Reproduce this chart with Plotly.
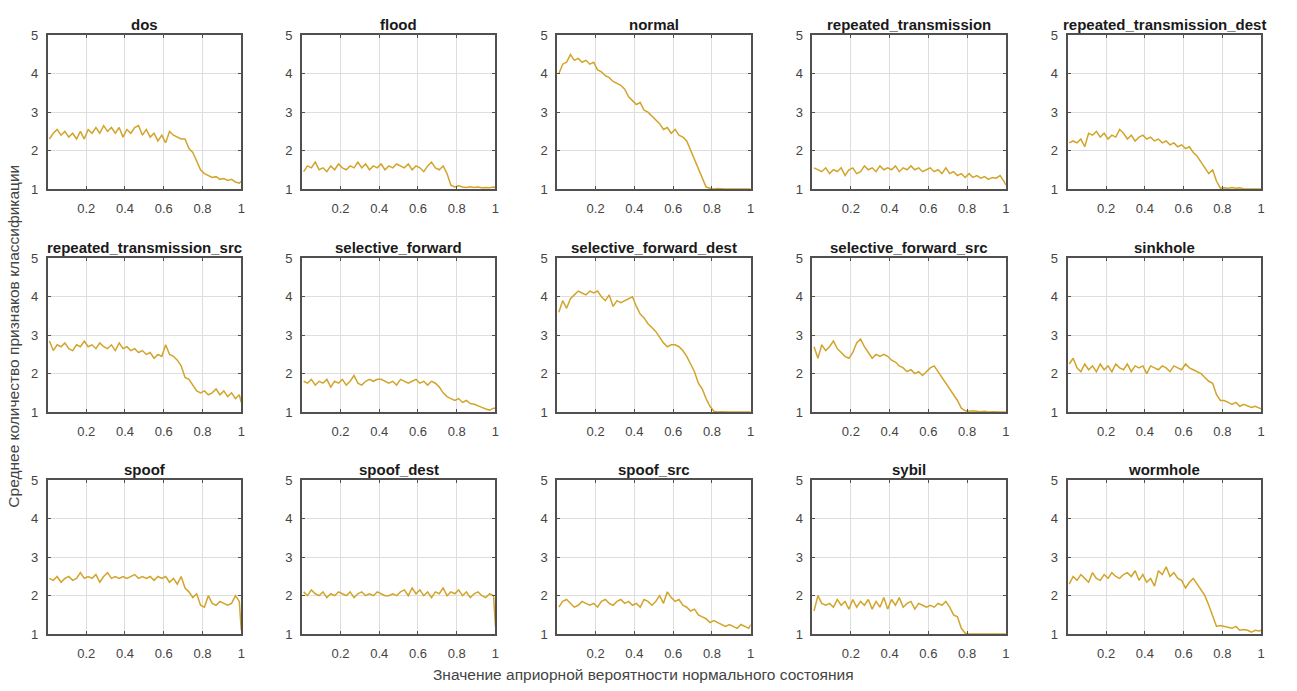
import plotly.graph_objects as go

# Prior probability of the normal state (x grid shared by all panels)
prior_p = [0.01, 0.03, 0.05, 0.07, 0.09, 0.11, 0.13, 0.15, 0.17, 0.19,
           0.21, 0.23, 0.25, 0.27, 0.29, 0.31, 0.33, 0.35, 0.37, 0.39,
           0.41, 0.43, 0.45, 0.47, 0.49, 0.51, 0.53, 0.55, 0.57, 0.59,
           0.61, 0.63, 0.65, 0.67, 0.69, 0.71, 0.73, 0.75, 0.77, 0.79,
           0.81, 0.83, 0.85, 0.87, 0.89, 0.91, 0.93, 0.95, 0.97, 0.99, 1.00]

# Mean number of classification features, one list per traffic class
dos = [2.30, 2.45, 2.55, 2.40, 2.50, 2.35, 2.45, 2.30, 2.50, 2.30,
       2.55, 2.45, 2.60, 2.45, 2.65, 2.50, 2.60, 2.45, 2.60, 2.35,
       2.55, 2.45, 2.60, 2.65, 2.40, 2.55, 2.35, 2.45, 2.25, 2.40,
       2.20, 2.50, 2.40, 2.35, 2.30, 2.30, 2.05, 1.95, 1.70, 1.50,
       1.40, 1.35, 1.30, 1.32, 1.25, 1.27, 1.22, 1.25, 1.18, 1.15, 1.20]
flood = [1.45, 1.60, 1.55, 1.70, 1.50, 1.55, 1.45, 1.60, 1.50, 1.65,
         1.55, 1.50, 1.60, 1.55, 1.70, 1.55, 1.65, 1.50, 1.60, 1.55,
         1.65, 1.50, 1.60, 1.55, 1.65, 1.60, 1.55, 1.65, 1.50, 1.60,
         1.55, 1.45, 1.60, 1.70, 1.55, 1.50, 1.60, 1.40, 1.10, 1.05,
         1.08, 1.05, 1.04, 1.06, 1.04, 1.05, 1.03, 1.04, 1.03, 1.05, 1.04]
normal = [4.00, 4.25, 4.30, 4.50, 4.35, 4.40, 4.30, 4.35, 4.25, 4.30,
          4.10, 4.05, 3.95, 3.90, 3.80, 3.75, 3.70, 3.60, 3.40, 3.30,
          3.20, 3.25, 3.05, 3.00, 2.90, 2.80, 2.70, 2.55, 2.60, 2.45,
          2.55, 2.40, 2.35, 2.25, 2.00, 1.80, 1.55, 1.30, 1.05, 1.02,
          1.00, 1.01, 1.00, 1.00, 1.00, 1.00, 1.00, 1.00, 1.00, 1.00, 1.00]
repeated_transmission = [1.55, 1.50, 1.45, 1.55, 1.40, 1.50, 1.45, 1.55, 1.35, 1.50,
                         1.55, 1.40, 1.45, 1.60, 1.50, 1.55, 1.45, 1.60, 1.50, 1.55,
                         1.50, 1.60, 1.45, 1.55, 1.50, 1.60, 1.50, 1.55, 1.45, 1.50,
                         1.55, 1.45, 1.50, 1.40, 1.55, 1.40, 1.45, 1.35, 1.40, 1.30,
                         1.40, 1.30, 1.35, 1.28, 1.32, 1.25, 1.30, 1.28, 1.35, 1.20, 1.10]
repeated_transmission_dest = [2.20, 2.25, 2.20, 2.30, 2.10, 2.45, 2.40, 2.50, 2.35, 2.45,
                              2.30, 2.40, 2.35, 2.55, 2.45, 2.30, 2.40, 2.25, 2.35, 2.40,
                              2.30, 2.35, 2.25, 2.30, 2.20, 2.25, 2.15, 2.20, 2.10, 2.15,
                              2.05, 2.10, 1.95, 1.85, 1.70, 1.55, 1.40, 1.50, 1.20, 1.02,
                              1.03, 1.02, 1.04, 1.02, 1.03, 1.00, 1.00, 1.00, 1.00, 1.00, 1.00]
repeated_transmission_src = [2.85, 2.60, 2.75, 2.70, 2.80, 2.65, 2.60, 2.75, 2.70, 2.85,
                             2.70, 2.75, 2.65, 2.80, 2.70, 2.65, 2.75, 2.60, 2.80, 2.65,
                             2.70, 2.60, 2.65, 2.55, 2.60, 2.50, 2.55, 2.40, 2.50, 2.45,
                             2.75, 2.50, 2.45, 2.35, 2.20, 1.90, 1.85, 1.70, 1.55, 1.50,
                             1.55, 1.45, 1.50, 1.60, 1.45, 1.55, 1.40, 1.50, 1.35, 1.45, 1.25]
selective_forward = [1.80, 1.75, 1.85, 1.70, 1.80, 1.75, 1.85, 1.65, 1.80, 1.75,
                     1.85, 1.70, 1.80, 1.95, 1.75, 1.70, 1.80, 1.85, 1.80, 1.85,
                     1.85, 1.80, 1.75, 1.80, 1.70, 1.85, 1.80, 1.75, 1.80, 1.85,
                     1.75, 1.80, 1.70, 1.80, 1.75, 1.65, 1.50, 1.40, 1.35, 1.30,
                     1.35, 1.25, 1.30, 1.22, 1.20, 1.15, 1.12, 1.08, 1.05, 1.10, 1.10]
selective_forward_dest = [3.60, 3.90, 3.70, 3.95, 4.05, 4.15, 4.10, 4.05, 4.15, 4.10,
                          4.15, 4.00, 3.90, 4.05, 3.75, 3.90, 3.85, 3.90, 3.95, 4.00,
                          3.75, 3.55, 3.45, 3.30, 3.20, 3.10, 2.95, 2.80, 2.70, 2.75,
                          2.75, 2.70, 2.60, 2.45, 2.25, 2.05, 1.75, 1.60, 1.35, 1.15,
                          1.02, 1.00, 1.01, 1.00, 1.00, 1.00, 1.00, 1.00, 1.00, 1.00, 1.00]
selective_forward_src = [2.70, 2.40, 2.75, 2.60, 2.70, 2.85, 2.65, 2.55, 2.45, 2.40,
                         2.55, 2.80, 2.90, 2.70, 2.55, 2.40, 2.50, 2.45, 2.50, 2.45,
                         2.35, 2.30, 2.20, 2.15, 2.05, 2.10, 2.00, 2.05, 1.95, 2.05,
                         2.15, 2.20, 2.05, 1.90, 1.75, 1.60, 1.45, 1.30, 1.10, 1.03,
                         1.02, 1.03, 1.02, 1.01, 1.02, 1.00, 1.01, 1.00, 1.00, 1.00, 1.00]
sinkhole = [2.25, 2.40, 2.15, 2.05, 2.25, 2.10, 2.20, 2.05, 2.25, 2.10,
            2.20, 2.05, 2.25, 2.15, 2.10, 2.25, 2.05, 2.20, 2.15, 2.20,
            2.00, 2.20, 2.15, 2.10, 2.20, 2.15, 2.05, 2.20, 2.15, 2.10,
            2.25, 2.15, 2.10, 2.05, 2.00, 1.90, 1.80, 1.75, 1.45, 1.30,
            1.30, 1.25, 1.20, 1.25, 1.15, 1.20, 1.15, 1.12, 1.15, 1.10, 1.08]
spoof = [2.45, 2.40, 2.50, 2.35, 2.45, 2.50, 2.40, 2.45, 2.60, 2.45,
         2.50, 2.45, 2.55, 2.35, 2.50, 2.60, 2.45, 2.50, 2.45, 2.50,
         2.45, 2.50, 2.55, 2.45, 2.50, 2.45, 2.50, 2.40, 2.50, 2.45,
         2.50, 2.35, 2.45, 2.30, 2.50, 2.20, 2.10, 1.95, 2.05, 1.75,
         1.70, 2.00, 1.80, 1.75, 1.85, 1.80, 1.75, 1.80, 2.00, 1.85, 1.10]
spoof_dest = [2.10, 2.00, 2.15, 2.05, 2.00, 2.10, 1.95, 2.05, 2.00, 2.10,
              2.05, 2.00, 2.10, 1.95, 2.05, 2.10, 2.00, 2.05, 2.00, 2.10,
              2.05, 2.00, 2.00, 2.05, 2.00, 2.10, 2.15, 2.00, 2.20, 2.05,
              2.15, 2.00, 2.10, 1.95, 2.10, 2.05, 2.20, 2.00, 2.10, 2.05,
              2.15, 2.00, 2.10, 1.95, 2.05, 2.10, 2.00, 1.95, 2.05, 2.00, 1.20]
spoof_src = [1.70, 1.85, 1.90, 1.80, 1.70, 1.75, 1.85, 1.80, 1.75, 1.80,
             1.70, 1.85, 1.90, 1.80, 1.75, 1.85, 1.90, 1.80, 1.85, 1.75,
             1.80, 1.70, 1.90, 1.85, 1.75, 1.85, 2.00, 1.80, 2.10, 1.95,
             1.85, 1.90, 1.75, 1.70, 1.60, 1.65, 1.50, 1.45, 1.40, 1.30,
             1.35, 1.30, 1.25, 1.20, 1.25, 1.20, 1.15, 1.25, 1.20, 1.15, 1.25]
sybil = [1.60, 2.00, 1.80, 1.75, 1.80, 1.70, 1.90, 1.75, 1.85, 1.65,
         1.90, 1.70, 1.85, 1.75, 1.90, 1.65, 1.85, 1.70, 1.95, 1.65,
         1.90, 1.75, 1.95, 1.70, 1.80, 1.85, 1.65, 1.80, 1.75, 1.70,
         1.75, 1.70, 1.80, 1.75, 1.85, 1.70, 1.50, 1.45, 1.15, 1.02,
         1.00, 1.00, 1.00, 1.00, 1.00, 1.00, 1.00, 1.00, 1.00, 1.00, 1.00]
wormhole = [2.30, 2.50, 2.40, 2.55, 2.45, 2.35, 2.60, 2.45, 2.40, 2.55,
            2.45, 2.60, 2.50, 2.45, 2.55, 2.60, 2.50, 2.65, 2.40, 2.55,
            2.35, 2.45, 2.25, 2.65, 2.55, 2.75, 2.50, 2.60, 2.45, 2.40,
            2.20, 2.35, 2.45, 2.30, 2.15, 2.00, 1.75, 1.50, 1.20, 1.22,
            1.20, 1.18, 1.15, 1.20, 1.10, 1.12, 1.10, 1.05, 1.10, 1.08, 1.10]

panel_titles = ["dos", "flood", "normal", "repeated_transmission", "repeated_transmission_dest",
                "repeated_transmission_src", "selective_forward", "selective_forward_dest",
                "selective_forward_src", "sinkhole",
                "spoof", "spoof_dest", "spoof_src", "sybil", "wormhole"]
panel_series = [dos, flood, normal, repeated_transmission, repeated_transmission_dest,
                repeated_transmission_src, selective_forward, selective_forward_dest,
                selective_forward_src, sinkhole,
                spoof, spoof_dest, spoof_src, sybil, wormhole]

x_ticks = [0.2, 0.4, 0.6, 0.8, 1]
x_tick_text = ["0.2", "0.4", "0.6", "0.8", "1"]
y_ticks = [1, 2, 3, 4, 5]

W, H = 1297, 691
col_left = [48, 303, 559, 815, 1071]
row_top = [29, 257, 484]
ax_w, ax_h = 194, 157

FONT = "Liberation Sans, Arial, Helvetica, sans-serif"
LINE_COLOR = "#D2A42B"
TEXT_GRAY = "#444444"

fig = go.Figure()
layout = dict(
    width=W, height=H,
    margin=dict(l=0, r=0, t=0, b=0),
    paper_bgcolor="white", plot_bgcolor="white",
    showlegend=False,
    font=dict(family=FONT, size=13, color=TEXT_GRAY),
)
annotations = []

for i, (title, vals) in enumerate(zip(panel_titles, panel_series)):
    r, c = divmod(i, 5)
    n = "" if i == 0 else str(i + 1)
    x0 = col_left[c] / W
    x1 = (col_left[c] + ax_w) / W
    y1 = 1 - row_top[r] / H
    y0 = 1 - (row_top[r] + ax_h) / H
    fig.add_trace(go.Scatter(
        x=prior_p, y=vals, mode="lines",
        line=dict(color=LINE_COLOR, width=1.5),
        xaxis="x" + n, yaxis="y" + n, hoverinfo="skip",
    ))
    common = dict(
        showgrid=True, gridcolor="#dedede", gridwidth=1,
        showline=True, linecolor="#505050", linewidth=2, mirror="ticks",
        ticks="inside", ticklen=3, tickcolor="#505050",
        zeroline=False, fixedrange=True,
        tickfont=dict(family=FONT, size=13, color=TEXT_GRAY),
    )
    layout["xaxis" + n] = dict(
        common, domain=[x0, x1], anchor="y" + n,
        range=[0.002, 1], tickvals=x_ticks, ticktext=x_tick_text,
        ticklabelstandoff=6,
    )
    layout["yaxis" + n] = dict(
        common, domain=[y0, y1], anchor="x" + n,
        range=[1, 5], tickvals=y_ticks, ticklabelstandoff=5,
    )
    annotations.append(dict(
        text="<b>" + title + "</b>", showarrow=False,
        xref="x" + n + " domain", yref="y" + n + " domain",
        x=0.5, y=1, xanchor="center", yanchor="bottom", yshift=0,
        font=dict(family=FONT, size=15, color="#1a1a1a"),
    ))

annotations.append(dict(
    text="Значение априорной вероятности нормального состояния",
    showarrow=False, xref="paper", yref="paper",
    x=645 / W, y=1 - 682 / H, xanchor="center", yanchor="middle",
    font=dict(family=FONT, size=15.5, color=TEXT_GRAY),
))
annotations.append(dict(
    text="Среднее количество признаков классификации",
    showarrow=False, xref="paper", yref="paper", textangle=-90,
    x=14 / W, y=1 - 336 / H, xanchor="center", yanchor="middle",
    font=dict(family=FONT, size=15.5, color=TEXT_GRAY),
))

layout["annotations"] = annotations
fig.update_layout(**layout)
fig.write_html("out.html")
